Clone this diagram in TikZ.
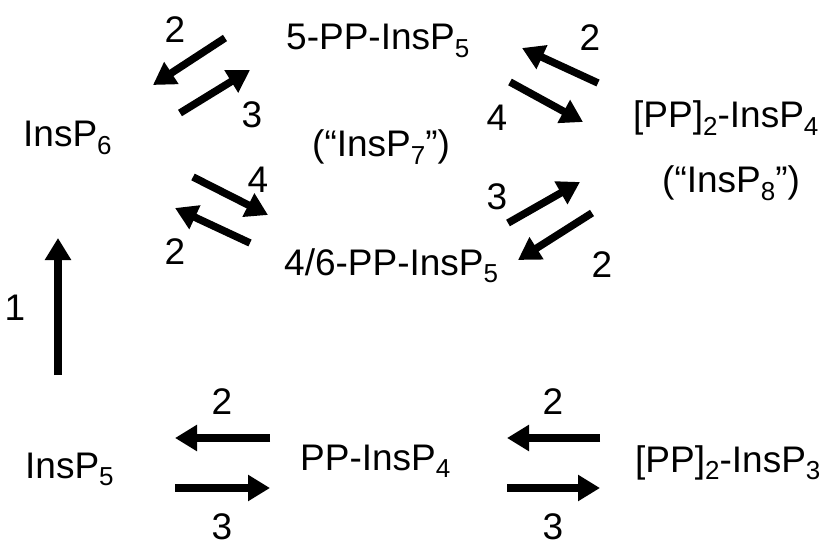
\documentclass[tikz,border=0pt]{standalone}
\usepackage{fontspec}
\setmainfont{Liberation Sans}
\usetikzlibrary{arrows.meta}
\newcommand\sbs[1]{\raisebox{-7.5pt}{\fontsize{26}{26}\selectfont #1}}
\tikzset{
  lbl/.style={inner sep=0pt, anchor=base west, font=\fontsize{37}{44}\selectfont},
  num/.style={inner sep=0pt, font=\fontsize{37}{44}\selectfont},
  rxn/.style={line width=7.5pt, -{Triangle[length=22pt,width=25pt]}}
}
\begin{document}
\begin{tikzpicture}[x=1pt,y=-1pt]
\useasboundingbox[fill=white] (0,0) rectangle (827,548);
% species
\node[lbl] (ip6) at (23,147) {InsP\sbs{6}};
\node[lbl] (pp5) at (286,50) {5-PP-InsP\sbs{5}};
\node[lbl] (ip7) at (312,157) {(“InsP\sbs{7}”)};
\node[lbl] (pp46) at (284,275) {4/6-PP-InsP\sbs{5}};
\node[lbl] (pp2ip4) at (633,128) {[PP]\sbs{2}-InsP\sbs{4}};
\node[lbl] (ip8) at (662,193) {(“InsP\sbs{8}”)};
\node[lbl] (ip5) at (25,478) {InsP\sbs{5}};
\node[lbl] (ppip4) at (300,470) {PP-InsP\sbs{4}};
\node[lbl] (pp2ip3) at (635,472) {[PP]\sbs{2}-InsP\sbs{3}};
% arrow end points
\coordinate (a1s) at (225,38);  \coordinate (a1e) at (153,85);
\coordinate (a2s) at (180,113); \coordinate (a2e) at (250,70);
\coordinate (a3s) at (598,83);  \coordinate (a3e) at (522,48);
\coordinate (a4s) at (510,82);  \coordinate (a4e) at (583,122);
\coordinate (a5s) at (193,177); \coordinate (a5e) at (268,215);
\coordinate (a6s) at (250,243); \coordinate (a6e) at (175,208);
\coordinate (a7s) at (508,223); \coordinate (a7e) at (580,182);
\coordinate (a8s) at (592,213); \coordinate (a8e) at (518,260);
\coordinate (v1s) at (58,375);  \coordinate (v1e) at (58,238);
\coordinate (b1s) at (270,438); \coordinate (b1e) at (175,438);
\coordinate (b2s) at (175,488); \coordinate (b2e) at (270,488);
\coordinate (b3s) at (600,438); \coordinate (b3e) at (507,438);
\coordinate (b4s) at (507,488); \coordinate (b4e) at (600,488);
% arrows
\foreach \a in {a1,a2,a3,a4,a5,a6,a7,a8,v1,b1,b2,b3,b4}
  \draw[rxn] (\a s) -- (\a e);
% enzyme numbers
\node[num] (n1) at (175,30) {2};
\node[num] (n2) at (252,115) {3};
\node[num] (n3) at (590,38) {2};
\node[num] (n4) at (497,118) {4};
\node[num] (n5) at (258,180) {4};
\node[num] (n6) at (175,252) {2};
\node[num] (n7) at (497,197) {3};
\node[num] (n8) at (602,265) {2};
\node[num] (n9) at (15,308) {1};
\node[num] (n10) at (222,402) {2};
\node[num] (n11) at (222,527) {3};
\node[num] (n12) at (553,402) {2};
\node[num] (n13) at (553,527) {3};
\end{tikzpicture}
\end{document}
